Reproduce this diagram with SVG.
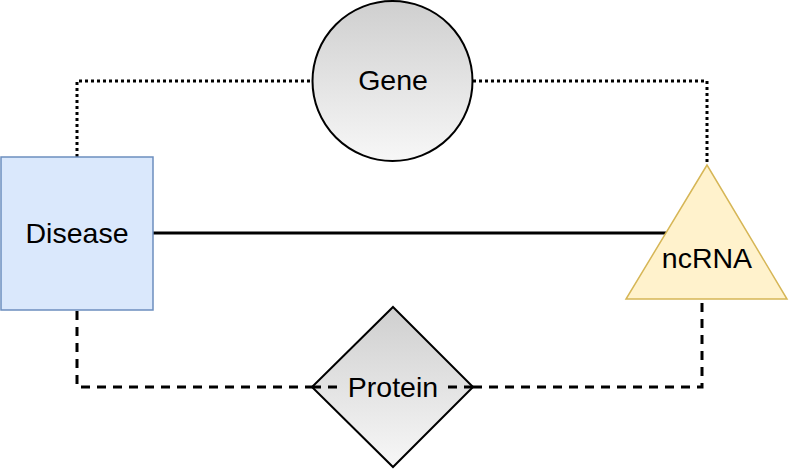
<svg xmlns="http://www.w3.org/2000/svg" width="789" height="470" viewBox="0 0 789 470">
<defs>
<linearGradient id="gray" x1="0" y1="0" x2="0" y2="1">
<stop offset="0" stop-color="#cfcfcf"/>
<stop offset="1" stop-color="#f7f7f7"/>
</linearGradient>
<style>
.lbl{font-family:"Liberation Sans",Arial,sans-serif;font-size:28.5px;fill:#000;text-anchor:middle}
.dot{fill:none;stroke:#000;stroke-width:3;stroke-dasharray:3 3}
.dash{fill:none;stroke:#000;stroke-width:3;stroke-dasharray:9 7}
.solid{fill:none;stroke:#000;stroke-width:3}
</style>
</defs>
<rect width="789" height="470" fill="#fff"/>
<g id="connectors">
<path class="dot" d="M77,157 V81 H312"/>
<path class="dot" d="M473,81 H707 V165"/>
<path class="solid" d="M153,233 H666"/>
<path class="dash" d="M77,311 V387 H312"/>
<path class="dash" d="M473,387 H702 V299"/>
</g>
<g id="disease">
<rect x="1" y="157" width="152" height="153" fill="#dae8fc" stroke="#6c8ebf" stroke-width="1.5"/>
<text class="lbl" x="77" y="243">Disease</text>
</g>
<g id="gene">
<circle cx="392.5" cy="81" r="80" fill="url(#gray)" stroke="#000" stroke-width="2"/>
<text class="lbl" x="393" y="90">Gene</text>
</g>
<g id="ncrna">
<polygon points="707,165 626,299 787,299" fill="#fff2cc" stroke="#d6b656" stroke-width="1.5"/>
<text class="lbl" x="707" y="268">ncRNA</text>
</g>
<g id="protein">
<polygon points="393,307 473,387 393,467 312,387" fill="url(#gray)" stroke="#000" stroke-width="2"/>
<path class="dash" d="M312,387 H340"/>
<path class="dash" d="M448,387 H473"/>
<text class="lbl" x="393" y="397">Protein</text>
</g>
</svg>
